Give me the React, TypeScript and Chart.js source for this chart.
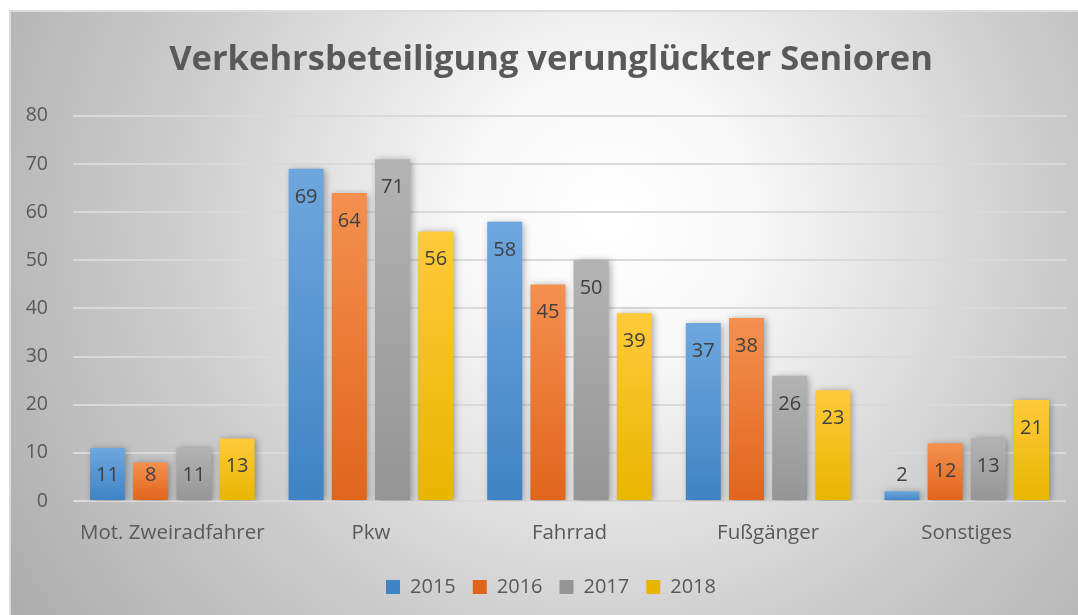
import React, { useEffect, useRef } from "react";
import { Chart, registerables } from "chart.js";

Chart.register(...registerables);

const categories = ["Mot. Zweiradfahrer", "Pkw", "Fahrrad", "Fußgänger", "Sonstiges"];
const years = ["2015", "2016", "2017", "2018"];
const values2015 = [11, 69, 58, 37, 2];
const values2016 = [8, 64, 45, 38, 12];
const values2017 = [11, 71, 50, 26, 13];
const values2018 = [13, 56, 39, 23, 21];
const yTicks = [0, 10, 20, 30, 40, 50, 60, 70, 80];

const FONT = "'Open Sans', Lato, sans-serif";

const palette = [
  { top: "#6ea7de", bottom: "#3f83c4", solid: "#5b9bd5" },
  { top: "#f5904f", bottom: "#e0651b", solid: "#ed7d31" },
  { top: "#b3b3b3", bottom: "#959595", solid: "#a5a5a5" },
  { top: "#ffca3a", bottom: "#e8b500", solid: "#ffc000" },
];

function barFill(i: number) {
  return (ctx: any) => {
    const chart = ctx.chart;
    const p = palette[i];
    const ys = chart.scales && chart.scales.y;
    if (!ys || !chart.chartArea || ctx.type !== "data" || ctx.parsed == null) return p.solid;
    const top = ys.getPixelForValue(ctx.parsed.y);
    const base = ys.getPixelForValue(0);
    if (!isFinite(top) || !isFinite(base) || Math.abs(base - top) < 1) return p.solid;
    const g = chart.ctx.createLinearGradient(0, top, 0, base);
    g.addColorStop(0, p.top);
    g.addColorStop(1, p.bottom);
    return g;
  };
}

const backgroundPlugin = {
  id: "bgPlugin",
  beforeDraw(chart: any) {
    const { ctx, width, height } = chart;
    ctx.save();
    const g = ctx.createRadialGradient(600, 210, 0, 600, 210, 720);
    g.addColorStop(0, "#ffffff");
    g.addColorStop(0.2, "#f8f8f8");
    g.addColorStop(0.6, "#cdcdcd");
    g.addColorStop(1, "#acacac");
    ctx.fillStyle = g;
    ctx.fillRect(0, 0, width, height);
    ctx.strokeStyle = "#dcdcdc";
    ctx.lineWidth = 2;
    ctx.strokeRect(1, 1, width + 10, height + 10);
    ctx.restore();
  },
};

const shadowPlugin = {
  id: "shadowPlugin",
  beforeDatasetsDraw(chart: any) {
    const ctx = chart.ctx;
    ctx.save();
    ctx.shadowColor = "rgba(0,0,0,0.35)";
    ctx.shadowBlur = 7;
    ctx.shadowOffsetX = 2;
    ctx.shadowOffsetY = 1;
  },
  afterDatasetsDraw(chart: any) {
    chart.ctx.restore();
  },
};

const labelPlugin = {
  id: "labelPlugin",
  afterDatasetsDraw(chart: any) {
    const ctx = chart.ctx;
    ctx.save();
    ctx.shadowColor = "transparent";
    ctx.font = `20px ${FONT}`;
    ctx.fillStyle = "#404040";
    ctx.textAlign = "center";
    ctx.textBaseline = "middle";
    chart.data.datasets.forEach((ds: any, di: number) => {
      const meta = chart.getDatasetMeta(di);
      meta.data.forEach((el: any, i: number) => {
        const y = Math.min(el.y + 28, el.base - 25);
        ctx.fillText(String(ds.data[i]), el.x, y);
      });
    });
    ctx.restore();
  },
};

export default function App() {
  const ref = useRef<HTMLCanvasElement>(null);
  useEffect(() => {
    if (!ref.current) return;
    const series = [values2015, values2016, values2017, values2018];
    const chart = new Chart(ref.current, {
      type: "bar",
      data: {
        labels: categories,
        datasets: series.map((d, i) => ({
          label: years[i],
          data: d,
          backgroundColor: barFill(i),
          borderWidth: 0,
          barPercentage: 0.81,
          categoryPercentage: 0.87,
        })),
      },
      options: {
        animation: false,
        responsive: true,
        maintainAspectRatio: false,
        layout: { padding: { left: 0, right: 6, top: 0, bottom: 8 } },
        plugins: {
          title: {
            display: true,
            text: "Verkehrsbeteiligung verunglückter Senioren",
            color: "#595959",
            font: { family: FONT, size: 34.5, weight: "bold" },
            padding: { top: 29, bottom: 35.5 },
          },
          legend: {
            position: "bottom",
            labels: {
              color: "#595959",
              font: { family: FONT, size: 20 },
              boxWidth: 14,
              boxHeight: 14,
              padding: 17,
            },
          },
          tooltip: { enabled: false },
        },
        scales: {
          x: {
            grid: { display: false, drawTicks: false },
            border: { display: false },
            ticks: { color: "#595959", font: { family: FONT, size: 20.5 }, padding: 20 },
            afterFit: (s: any) => {
              s.paddingLeft = 0;
              s.paddingRight = 33;
              s.height = 59;
            },
          },
          y: {
            min: 0,
            max: 80,
            afterBuildTicks: (s: any) => {
              s.ticks = yTicks.map((v) => ({ value: v }));
            },
            afterFit: (s: any) => {
              s.width = 64;
            },
            grid: { color: "#d9d9d9", lineWidth: 2, drawTicks: false },
            border: { display: false },
            ticks: { color: "#595959", font: { family: FONT, size: 19.5 }, padding: 25 },
          },
        },
      },
      plugins: [backgroundPlugin, shadowPlugin, labelPlugin],
    });
    return () => chart.destroy();
  }, []);
  return (
    <div style={{ position: "fixed", left: 9, top: 10, width: 1090, height: 605 }}>
      <canvas ref={ref} />
    </div>
  );
}
